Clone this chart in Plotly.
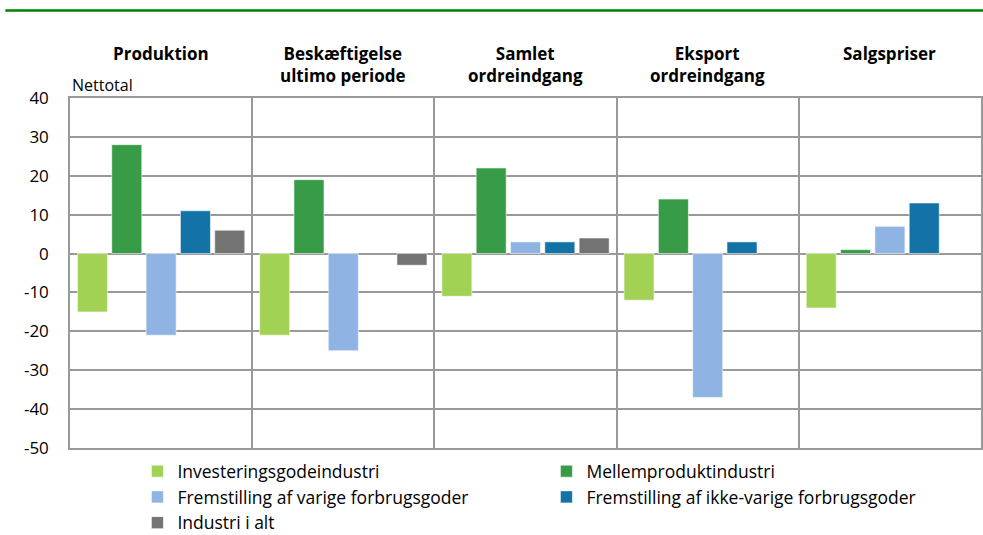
import plotly.graph_objects as go

categories = ["Produktion", "Beskæftigelse<br>ultimo periode", "Samlet<br>ordreindgang",
              "Eksport<br>ordreindgang", "Salgspriser"]
series_names = ["Investeringsgodeindustri", "Mellemproduktindustri",
                "Fremstilling af varige forbrugsgoder",
                "Fremstilling af ikke-varige forbrugsgoder", "Industri i alt"]
investering = [-15, -21, -11, -12, -14]
mellemprodukt = [28, 19, 22, 14, 1]
varige = [-21, -25, 3, -37, 7]
ikke_varige = [11, None, 3, 3, 13]
industri_i_alt = [6, -3, 4, None, None]
colors = ["#A2D254", "#379B48", "#8FB3E2", "#1372A6", "#737373"]
y_ticks = [40, 30, 20, 10, 0, -10, -20, -30, -40, -50]

values = [investering, mellemprodukt, varige, ikke_varige, industri_i_alt]
FONT = "Open Sans, Noto Sans, sans-serif"

fig = go.Figure()
for name, vals, col in zip(series_names, values, colors):
    fig.add_trace(go.Bar(x=categories, y=vals, name=name,
                         marker=dict(color=col, line=dict(color="rgba(255,255,255,0.7)", width=0.8))))

for cat in categories:
    fig.add_annotation(x=cat, xref="x", y=1.165, yref="paper", yanchor="top",
                       text="<b>" + cat + "</b>", showarrow=False,
                       font=dict(family=FONT, size=17, color="black"), align="center")

fig.add_annotation(x=0, xref="paper", xanchor="left", y=1, yref="paper", yanchor="bottom",
                   yshift=0, text="Nettotal", showarrow=False,
                   font=dict(family=FONT, size=16, color="black"))

fig.add_shape(type="line", xref="paper", yref="paper", x0=-0.071, x1=1.003,
              y0=1.25, y1=1.25, line=dict(color="#008000", width=2.5))

fig.update_layout(
    width=983, height=535,
    margin=dict(l=70, r=2, t=98, b=87, autoexpand=False),
    paper_bgcolor="white", plot_bgcolor="white",
    barmode="group", bargap=0.058, bargroupgap=0.125,
    font=dict(family=FONT, size=16, color="black"),
    showlegend=True,
    legend=dict(orientation="h", x=0.074, xanchor="left", y=-0.015, yanchor="top",
                entrywidth=364, entrywidthmode="pixels",
                font=dict(family=FONT, size=17.5, color="black"),
                bgcolor="rgba(0,0,0,0)", traceorder="normal"),
    xaxis=dict(showticklabels=False, showgrid=True, gridcolor="#999999", gridwidth=1.5,
               tickson="boundaries", ticks="", showline=True, linecolor="#999999",
               linewidth=1.5, mirror=True, range=[-0.5, 4.5]),
    yaxis=dict(range=[-50, 40], tickvals=y_ticks, ticktext=[str(v) for v in y_ticks],
               showgrid=True, gridcolor="#999999",
               gridwidth=1.5, zeroline=True, zerolinecolor="#999999", zerolinewidth=1.5,
               showline=True, linecolor="#999999", linewidth=1.5, mirror=True,
               ticks="", ticklabelstandoff=16, tickfont=dict(family=FONT, size=17)),
)

fig.write_html("out.html",
               config={"displayModeBar": False},
               post_script="document.body.style.margin='0';"
                           "document.body.style.overflow='hidden';")
